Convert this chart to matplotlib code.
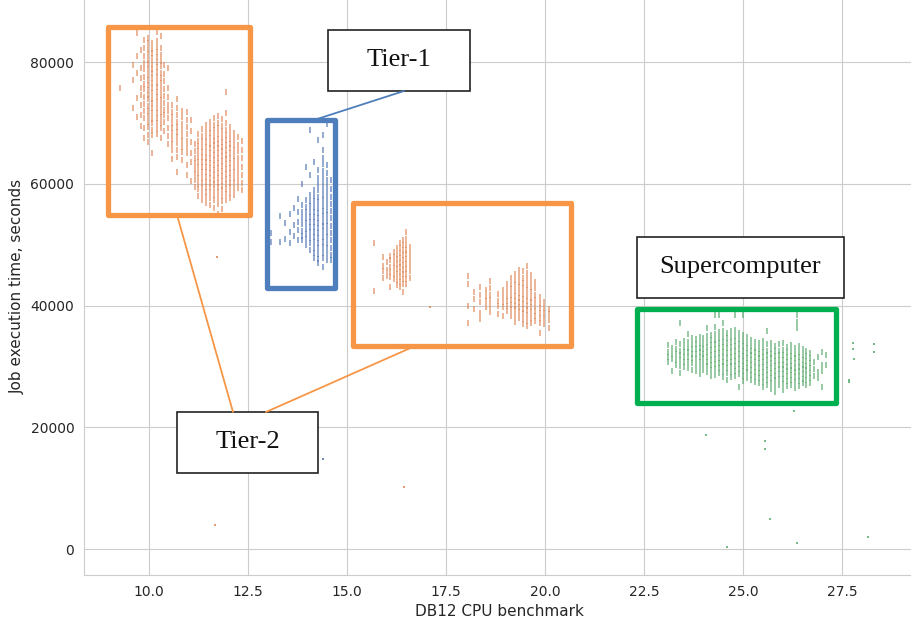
import numpy as np
import matplotlib
matplotlib.use("Agg")
import matplotlib.pyplot as plt
import matplotlib.patches as patches
import seaborn as sns

# job clusters, read off the picture strip by strip
# x = DB12 benchmark of the strip, y = job time in thousands of seconds
tier2_x = [9.27, 9.6, 9.7, 9.8, 9.87, 9.97, 10.08, 10.2, 10.3, 10.38, 10.48,
           10.58, 10.7, 10.83, 10.96, 11.05,
           11.15, 11.25, 11.35, 11.45, 11.55, 11.65, 11.75, 11.85, 11.95, 12.05, 12.15, 12.25, 12.35,
           15.68, 15.9, 16.0, 16.08, 16.18, 16.26, 16.34, 16.42, 16.5, 16.58,
           18.05, 18.2, 18.35, 18.5, 18.6, 18.8, 18.95, 19.05, 19.15, 19.25, 19.35, 19.45,
           19.55, 19.65, 19.75, 19.88, 19.98, 20.1]
tier2_y = [
    [75.7],
    [79.5, 77.0, 72.5],
    [84.8, 81.0, 78.2, 74.1, 71.0],
    [82.0, 79.0, 77.4, 75.8, 74.6, 73.0, 71.3, 69.5],
    [83.6, 82.3, 81.0, 79.8, 78.9, 77.6, 76.4, 75.5, 74.2, 73.1, 72.0, 70.8, 69.2, 67.5],
    [84.0, 83.2, 82.1, 81.3, 80.4, 79.6, 78.8, 77.9, 77.1, 76.3, 75.4, 74.6, 73.9, 72.8, 72.0, 71.1, 70.2, 69.3, 68.0, 66.9],
    [83.1, 82.2, 81.4, 80.6, 79.7, 78.9, 78.2, 77.3, 76.5, 75.8, 74.9, 74.0, 73.3, 72.4, 71.6, 70.7, 69.9, 68.9, 68.0, 65.0],
    [85.0, 83.4, 82.5, 81.7, 80.8, 80.0, 79.1, 78.3, 77.5, 76.6, 75.9, 75.0, 74.2, 73.4, 72.5, 71.7, 70.8, 69.9, 69.0, 68.1],
    [84.2, 82.3, 81.2, 80.1, 79.3, 78.2, 77.4, 76.5, 75.5, 74.6, 73.8, 72.7, 71.8, 70.9, 70.0, 69.2, 67.5],
    [79.5, 78.1, 76.8, 75.6, 74.4, 73.2, 72.1, 71.3, 70.2, 68.6],
    [79.0, 75.7, 74.2, 73.0, 71.9, 70.8, 69.2, 67.9, 66.5],
    [72.9, 71.8, 70.9, 70.0, 69.1, 68.3, 67.4, 66.5, 65.5, 64.0],
    [74.0, 72.4, 71.3, 70.2, 69.4, 68.5, 67.6, 66.7, 65.6, 64.4, 62.0],
    [72.0, 70.9, 69.8, 68.8, 67.9, 67.0, 66.1, 65.2, 63.9],
    [71.8, 70.4, 69.3, 68.2, 67.0, 66.0, 65.0, 63.1, 61.5],
    [70.5, 68.6, 66.8, 65.1, 63.5, 60.5],
    [66.5, 65.3, 64.2, 63.4, 62.5, 61.6, 60.6, 59.5],
    [68.2, 67.1, 66.2, 65.3, 64.4, 63.5, 62.7, 61.8, 60.9, 60.0, 59.1, 58.0],
    [69.0, 67.9, 67.0, 66.1, 65.2, 64.4, 63.5, 62.7, 61.9, 61.0, 60.2, 59.3, 58.4, 57.3],
    [69.6, 68.6, 67.7, 66.8, 66.0, 65.1, 64.3, 63.5, 62.7, 61.9, 61.1, 60.3, 59.5, 58.6, 57.8, 56.8],
    [70.2, 69.2, 68.3, 67.5, 66.6, 65.8, 65.0, 64.2, 63.4, 62.6, 61.8, 61.0, 60.2, 59.4, 58.6, 57.7, 56.5],
    [70.8, 69.7, 68.8, 67.9, 67.1, 66.3, 65.5, 64.7, 63.9, 63.1, 62.3, 61.5, 60.7, 59.9, 59.1, 58.2, 57.3, 56.0],
    [71.2, 70.0, 69.1, 68.2, 67.4, 66.6, 65.8, 65.0, 64.2, 63.4, 62.6, 61.8, 61.0, 60.2, 59.4, 58.6, 57.7, 56.7, 55.0],
    [70.6, 69.5, 68.6, 67.7, 66.9, 66.1, 65.3, 64.5, 63.7, 62.9, 62.1, 61.3, 60.5, 59.7, 58.9, 58.0, 57.1, 55.8],
    [75.1, 71.6, 69.9, 68.9, 68.0, 67.2, 66.4, 65.6, 64.8, 64.0, 63.2, 62.4, 61.6, 60.8, 60.0, 59.2, 58.3, 57.3],
    [69.3, 68.3, 67.4, 66.6, 65.8, 65.0, 64.2, 63.4, 62.6, 61.8, 61.0, 60.2, 59.4, 58.5, 57.6],
    [68.4, 67.3, 66.4, 65.5, 64.6, 63.7, 62.8, 61.9, 61.0, 60.1, 59.2, 58.2],
    [67.6, 66.4, 65.3, 64.3, 63.3, 62.3, 61.3, 60.3, 59.3],
    [67.0, 65.6, 64.2, 62.8, 61.5, 60.2, 58.9],
    [50.3, 42.4],
    [48.0, 46.5, 45.6, 44.5],
    [47.2, 45.9, 44.8],
    [48.2, 47.5, 46.4, 45.5, 44.7, 43.1],
    [48.8, 47.9, 47.0, 46.1, 45.2, 44.3],
    [49.5, 48.5, 47.6, 46.8, 46.0, 45.1, 44.2, 43.4],
    [50.3, 49.4, 48.6, 47.8, 47.0, 46.3, 45.5, 44.7, 43.9, 43.0],
    [50.8, 49.9, 49.1, 48.3, 47.5, 46.7, 45.9, 45.1, 44.3, 43.5, 42.2],
    [52.0, 50.9, 50.0, 49.2, 48.4, 47.6, 46.8, 46.0, 45.2, 44.4, 43.6],
    [49.6, 48.6, 47.6, 46.6, 45.6, 44.6],
    [44.8, 43.6, 40.0, 37.2],
    [42.3, 41.0, 39.5],
    [43.0, 41.8, 40.6, 38.8, 37.8],
    [42.5, 41.5, 40.7, 39.8],
    [44.0, 42.8, 41.7, 40.9, 40.0, 39.0],
    [41.9, 40.8, 39.9, 38.6],
    [42.6, 41.6, 40.6, 39.7, 38.2],
    [43.5, 42.5, 41.6, 40.8, 40.0, 39.1],
    [44.6, 43.6, 42.7, 41.8, 40.9, 40.1, 39.2, 38.3],
    [45.2, 44.2, 43.3, 42.4, 41.6, 40.8, 40.0, 39.2, 38.3, 37.3],
    [45.8, 44.8, 43.9, 43.0, 42.1, 41.3, 40.5, 39.7, 38.9, 38.0],
    [45.6, 44.6, 43.7, 42.8, 41.9, 41.1, 40.3, 39.5, 38.7, 37.8, 36.9],
    [46.5, 45.3, 44.3, 43.4, 42.5, 41.6, 40.8, 40.0, 39.2, 38.4, 37.5, 36.6],
    [45.0, 44.0, 43.1, 42.2, 41.3, 40.5, 39.7, 38.9, 38.0, 37.1],
    [43.8, 42.8, 41.8, 40.9, 40.0, 39.1, 38.2, 37.4],
    [41.4, 40.4, 39.6, 38.8, 38.0, 37.2, 35.5],
    [40.6, 39.6, 38.7, 37.9, 37.0],
    [39.5, 38.6, 37.6, 36.3],
]
tier2_out_x = [11.72, 11.67, 16.44, 17.1]
tier2_out_y = [47.96, 3.9, 10.2, 39.8]

tier1_x = [13.08, 13.3, 13.43, 13.56, 13.66, 13.76, 13.86, 13.96, 14.07, 14.17, 14.27, 14.39, 14.5, 14.6]
tier1_y = [
    [51.9, 50.4],
    [54.7, 50.5],
    [53.5, 51.0],
    [55.0, 52.0, 50.2],
    [56.0, 53.2, 51.5],
    [57.5, 55.3, 53.8, 52.4, 50.8],
    [60.0, 56.5, 55.4, 54.4, 53.4, 52.3, 51.4, 50.8],
    [62.8, 57.3, 56.2, 55.3, 54.4, 53.5, 52.6, 51.7, 50.9, 50.0],
    [68.8, 61.5, 58.2, 57.2, 56.3, 55.4, 54.6, 53.7, 52.9, 52.0, 51.1, 50.2, 49.1],
    [63.5, 59.0, 58.0, 57.1, 56.2, 55.4, 54.6, 53.7, 52.9, 52.1, 51.2, 50.4, 49.5, 48.6, 47.8],
    [67.2, 62.3, 61.0, 59.9, 58.9, 57.9, 57.0, 56.1, 55.2, 54.4, 53.6, 52.7, 51.9, 51.1, 50.2, 49.4, 48.5, 47.6, 47.0],
    [68.0, 65.5, 64.3, 63.2, 62.1, 61.1, 60.1, 59.1, 58.2, 57.3, 56.4, 55.5, 54.7, 53.8, 53.0, 52.2, 51.3, 50.5, 49.6, 48.7, 47.8, 46.3],
    [69.8, 63.0, 61.8, 60.7, 59.6, 58.6, 57.6, 56.6, 55.7, 54.8, 53.9, 53.0, 52.1, 51.2, 50.3, 49.4, 48.5, 47.5],
    [60.6, 59.2, 57.9, 56.7, 55.5, 54.3, 53.1, 51.9, 50.7, 49.5, 48.3, 47.5],
]
tier1_out_x = [14.39]
tier1_out_y = [14.8]

super_x = [23.1, 23.2, 23.3, 23.4, 23.5, 23.6, 23.7, 23.8, 23.9, 24.0, 24.1, 24.2, 24.3, 24.4,
           24.5, 24.6, 24.7, 24.8, 24.9, 25.0, 25.1, 25.2, 25.3, 25.4, 25.5, 25.6, 25.7, 25.8,
           25.9, 26.0, 26.1, 26.2, 26.3, 26.37, 26.4, 26.5, 26.6, 26.7, 26.8, 26.9, 27.0, 27.1]
super_y = [
    [33.5, 32.4, 31.6, 30.7],
    [33.0, 32.0, 31.2, 29.3],
    [34.0, 32.8, 32.0, 31.1, 30.2],
    [37.1, 33.6, 32.6, 31.8, 31.0, 30.1, 28.9],
    [34.2, 33.2, 32.4, 31.6, 30.8, 29.9],
    [35.4, 34.0, 33.1, 32.3, 31.5, 30.7, 29.7],
    [34.6, 33.7, 32.9, 32.1, 31.3, 30.5, 29.4],
    [34.5, 33.6, 32.8, 32.0, 31.2, 30.3, 29.2],
    [34.9, 33.9, 33.1, 32.3, 31.5, 30.7, 29.8, 28.8],
    [34.6, 33.7, 32.9, 32.1, 31.3, 30.4, 29.4],
    [36.3, 35.0, 34.0, 33.2, 32.4, 31.6, 30.8, 30.0, 29.0],
    [35.2, 34.3, 33.5, 32.7, 31.9, 31.1, 30.3, 29.4, 28.4],
    [38.4, 36.5, 35.3, 34.4, 33.6, 32.8, 32.0, 31.2, 30.4, 29.6, 28.6],
    [38.4, 35.6, 34.6, 33.8, 33.0, 32.2, 31.4, 30.6, 29.8, 28.9],
    [37.2, 35.8, 34.8, 34.0, 33.2, 32.4, 31.6, 30.8, 30.0, 29.1, 28.2],
    [35.5, 34.6, 33.8, 33.0, 32.2, 31.4, 30.6, 29.8, 28.9, 27.8],
    [35.8, 34.8, 34.0, 33.2, 32.4, 31.6, 30.8, 30.0, 29.1, 28.3],
    [38.4, 36.0, 35.0, 34.1, 33.3, 32.5, 31.7, 30.9, 30.1, 29.3, 28.4],
    [35.5, 34.5, 33.6, 32.8, 32.0, 31.2, 30.4, 29.6, 28.7, 26.6],
    [38.4, 35.2, 34.2, 33.3, 32.5, 31.7, 30.9, 30.1, 29.3, 28.4, 27.6],
    [34.8, 33.8, 33.0, 32.2, 31.4, 30.6, 29.8, 29.0, 28.1],
    [34.3, 33.4, 32.6, 31.8, 31.0, 30.2, 29.4, 28.6, 27.7],
    [34.0, 33.1, 32.3, 31.5, 30.7, 29.9, 29.1, 28.3, 27.4],
    [33.8, 32.9, 32.1, 31.3, 30.5, 29.7, 28.9, 28.1, 27.2],
    [34.2, 33.2, 32.3, 31.5, 30.7, 29.9, 29.1, 28.3, 27.5, 26.6],
    [35.8, 33.6, 32.6, 31.8, 31.0, 30.2, 29.4, 28.6, 27.8, 26.9],
    [33.9, 32.9, 32.1, 31.3, 30.5, 29.7, 28.9, 28.1, 27.2, 26.3],
    [33.4, 32.5, 31.7, 30.9, 30.1, 29.3, 28.5, 27.7, 26.8, 25.8],
    [33.6, 32.6, 31.8, 31.0, 30.2, 29.5, 28.7, 27.9, 27.0],
    [33.8, 32.7, 31.9, 31.1, 30.3, 29.6, 28.8, 28.0, 27.1, 26.2],
    [33.2, 32.3, 31.5, 30.7, 29.9, 29.2, 28.4, 27.6, 26.7],
    [33.5, 32.5, 31.7, 30.9, 30.1, 29.4, 28.6, 27.8, 26.9],
    [33.0, 32.1, 31.3, 30.5, 29.8, 29.0, 28.2, 27.4, 26.5],
    [38.4, 37.3, 36.3],
    [33.3, 32.3, 31.5, 30.7, 29.9, 29.2, 28.4, 27.6, 26.8],
    [32.8, 31.9, 31.1, 30.3, 29.6, 28.8, 28.0, 27.2],
    [32.6, 31.7, 30.9, 30.1, 29.4, 28.6, 27.8, 27.0],
    [32.2, 31.3, 30.5, 29.7, 28.9, 28.1, 27.3],
    [30.8, 29.6, 28.5],
    [31.5, 29.0, 28.1],
    [32.3, 30.2, 29.2, 26.6],
    [31.8, 30.3],
]
super_out_x = [24.07, 25.55, 25.55, 25.68, 24.6, 26.36, 28.16, 27.78, 27.78, 27.8,
               27.68, 27.68, 28.3, 28.3, 26.29]
super_out_y = [18.7, 17.7, 16.5, 4.9, 0.3, 1.0, 2.0, 33.8, 32.9, 31.2,
               27.8, 27.4, 33.7, 32.4, 22.7]

x_ticks = [10.0, 12.5, 15.0, 17.5, 20.0, 22.5, 25.0, 27.5]
y_ticks = [0, 20000, 40000, 60000, 80000]


def flatten(xs, ys):
    px, py = [], []
    for x, col in zip(xs, ys):
        px += [x] * len(col)
        py += col
    return np.array(px), np.array(py) * 1000


sns.set_style("whitegrid")
plt.rcParams['font.family'] = ['DejaVu Sans']

W, H = 912, 622
fig = plt.figure(figsize=(W / 100, H / 100), dpi=100)
# axes runs past the right and top edge, the reference is cropped there
ax = fig.add_axes([84 / W, 47 / H, (915 - 84) / W, (575 + 3) / H])

pal = sns.color_palette("deep")
for xs, ys, ox, oy, c in [(tier1_x, tier1_y, tier1_out_x, tier1_out_y, pal[0]),
                          (tier2_x, tier2_y, tier2_out_x, tier2_out_y, pal[1]),
                          (super_x, super_y, super_out_x, super_out_y, pal[2])]:
    px, py = flatten(xs, ys)
    # dense vertical strips of jobs -> short vertical ticks so they merge
    ax.scatter(px, py, s=14, marker='|', color=c, alpha=0.65, linewidths=1.3)
    ax.scatter(ox, np.array(oy) * 1000, s=4, marker='s', color=c, alpha=0.8, linewidths=0)

ax.set_xlim(8.36, 29.34)
ax.set_ylim(-4270, 90680)
ax.set_xticks(x_ticks)
ax.set_yticks(y_ticks)
ax.tick_params(labelsize=10, colors='.15')
ax.set_xlabel("DB12 CPU benchmark", fontsize=11, color='.15')
ax.set_ylabel("Job execution time, seconds", fontsize=11, color='.15')


# annotations are drawn in figure pixels (origin top left, like the picture)
def fx(px):
    return px / W


def fy(py):
    return 1 - py / H


def frame(x0, y0, x1, y1, color, lw):
    fig.patches.append(patches.Rectangle((fx(x0), fy(y1)), fx(x1) - fx(x0), fy(y0) - fy(y1),
                                         transform=fig.transFigure, fill=False,
                                         edgecolor=color, linewidth=lw, joinstyle='round'))


def line(x0, y0, x1, y1, color):
    fig.add_artist(plt.Line2D([fx(x0), fx(x1)], [fy(y0), fy(y1)], transform=fig.transFigure,
                              color=color, linewidth=1.3))


def label(x0, y0, x1, y1, text):
    fig.patches.append(patches.Rectangle((fx(x0), fy(y1)), fx(x1) - fx(x0), fy(y0) - fy(y1),
                                         transform=fig.transFigure, facecolor='white',
                                         edgecolor='#222222', linewidth=1.2))
    fig.text(fx((x0 + x1) / 2), fy((y0 + y1) / 2), text, ha='center', va='center',
             fontsize=19, family='Liberation Serif', color='#111111')


orange = '#F79646'
blue = '#4F7EBD'
green = '#00B050'

line(233, 412, 177, 215, orange)
line(266, 412, 415, 346, orange)
line(404, 91, 311, 121, blue)

frame(108, 27, 250, 215, orange, 3.8)
frame(353, 203, 571, 346, orange, 3.8)
frame(267, 120, 335, 288, blue, 3.8)
frame(637, 309, 836, 403, green, 3.8)

label(328, 30, 470, 91, "Tier-1")
label(637, 237, 844, 298, "Supercomputer")
label(177, 412, 318, 473, "Tier-2")

fig.savefig("out.png", dpi=100)
